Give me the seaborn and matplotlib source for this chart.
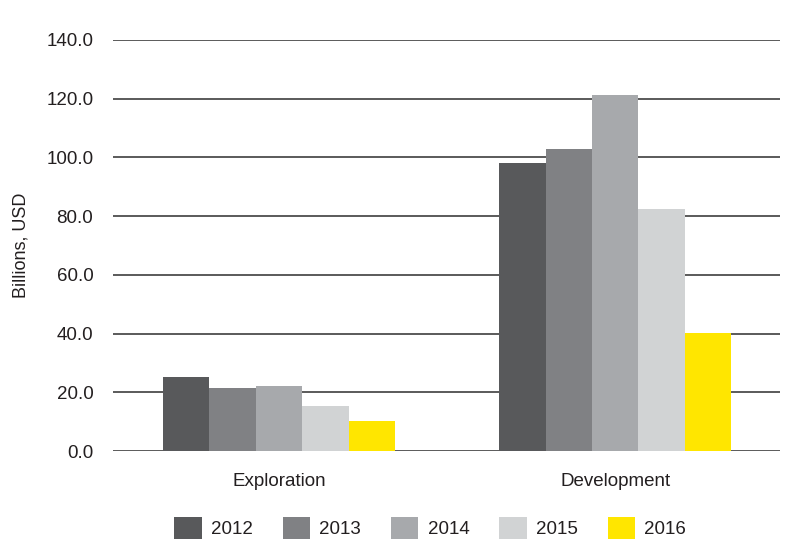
import matplotlib
matplotlib.use("Agg")
import matplotlib.pyplot as plt
import seaborn as sns
import pandas as pd

categories = ["Exploration", "Development"]
years = ["2012", "2013", "2014", "2015", "2016"]
exploration = [25.2, 21.5, 22.1, 15.3, 10.2]
development = [98.1, 102.9, 121.3, 82.4, 40.2]
colors = ["#58595b", "#808184", "#a7a9ac", "#d1d3d4", "#ffe600"]

rows = []
for i, y in enumerate(years):
    rows.append({"Category": categories[0], "Year": y, "Value": exploration[i]})
    rows.append({"Category": categories[1], "Year": y, "Value": development[i]})
df = pd.DataFrame(rows)

sns.set_style("white")
plt.rcParams["font.family"] = ["Liberation Sans", "DejaVu Sans"]

fig = plt.figure(figsize=(8, 5.55), dpi=100)
ax = fig.add_axes([0.141, 0.187, 0.834, 0.741])

sns.barplot(data=df, x="Category", y="Value", hue="Year", order=categories,
            hue_order=years, palette=colors, width=0.69, saturation=1,
            edgecolor="none", linewidth=0, ax=ax, zorder=3)

ax.set_ylim(0, 140)
ax.set_xlim(-0.494, 1.49)
ax.set_yticks(range(0, 141, 20))
ax.set_yticklabels([f"{v:.1f}" for v in range(0, 141, 20)])
ax.yaxis.grid(True, color="#4d4d4d", linewidth=1.3, zorder=0)
ax.set_axisbelow(True)
for s in ax.spines.values():
    s.set_visible(False)
ax.tick_params(axis="both", length=0, labelsize=13.5, colors="#231f20")
ax.tick_params(axis="x", pad=16)
ax.tick_params(axis="y", pad=14)
ax.set_xlabel("")
ax.set_ylabel("Billions, USD", fontsize=13, color="#231f20", labelpad=12)

handles, labels = ax.get_legend_handles_labels()
ax.legend(handles, labels, loc="center", bbox_to_anchor=(0.476, -0.187), ncol=5,
          frameon=False, fontsize=13.5, handlelength=1.45, handleheight=1.45,
          columnspacing=1.6, handletextpad=0.5, labelcolor="#231f20")

fig.savefig("out.png", dpi=100)
